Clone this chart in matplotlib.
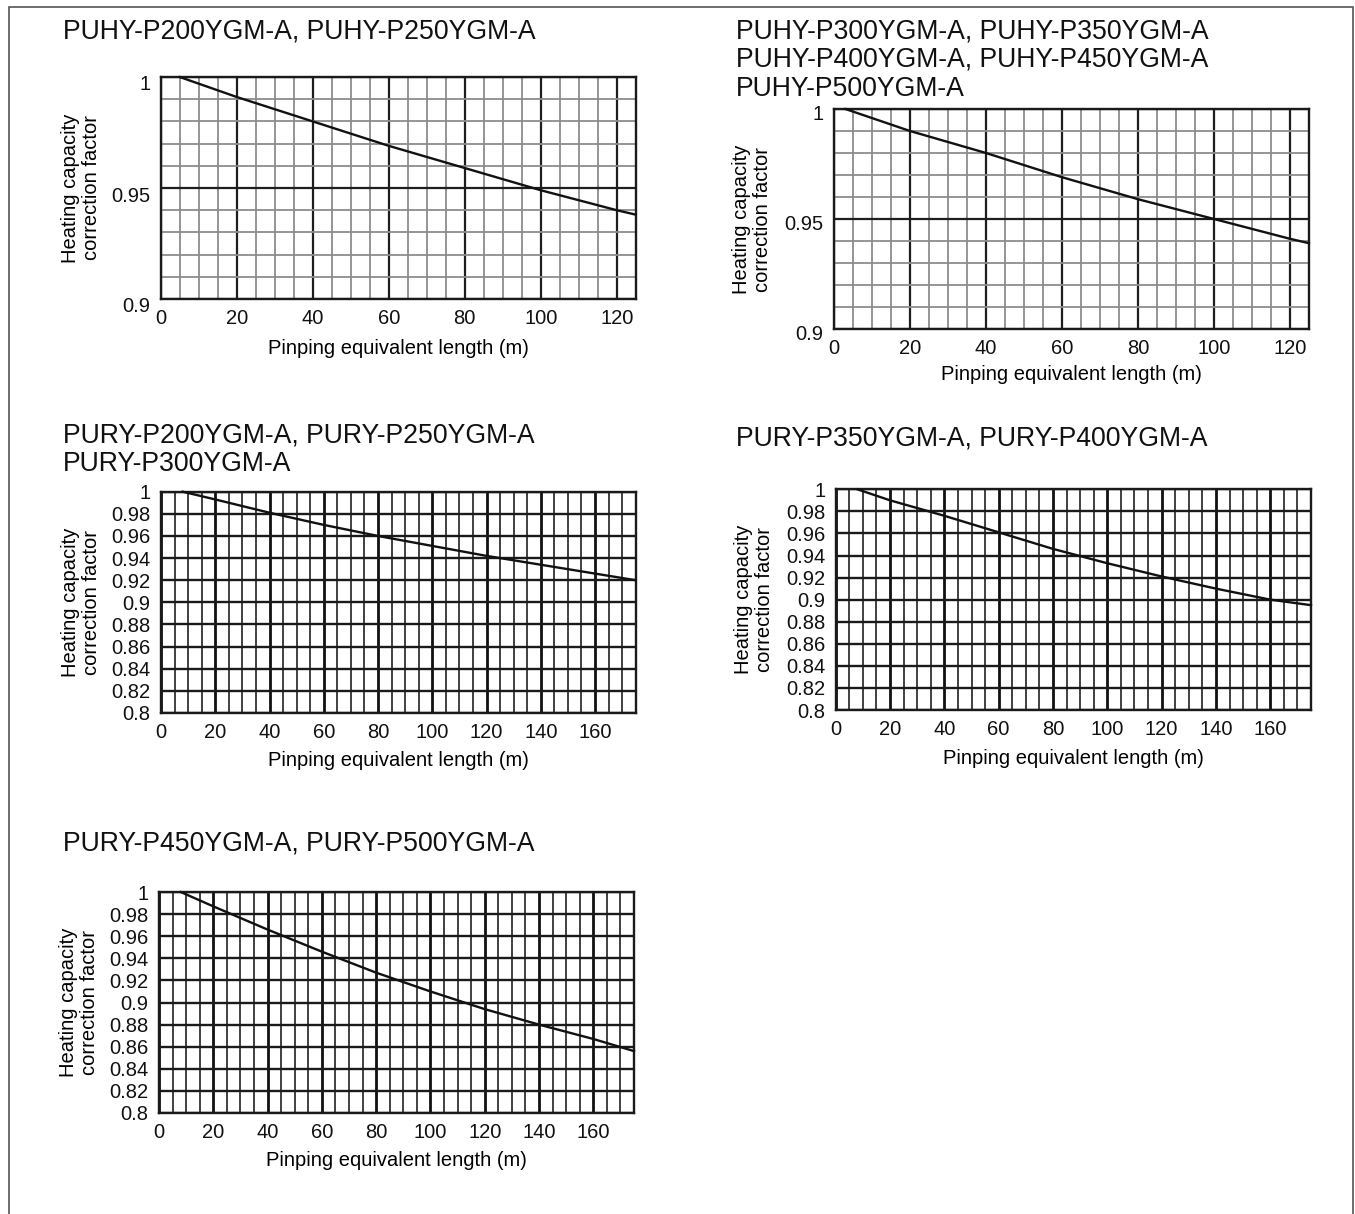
import matplotlib
matplotlib.use("Agg")
import matplotlib.pyplot as plt
import numpy as np
from matplotlib.patches import Rectangle
from matplotlib.transforms import ScaledTranslation

plt.rcParams['font.family'] = ['Liberation Sans', 'DejaVu Sans']

W, H = 1355, 1214
fig = plt.figure(figsize=(W / 100, H / 100), dpi=100)

# ---- text ----
title_puhy_small = ["PUHY-P200YGM-A, PUHY-P250YGM-A"]
title_puhy_large = ["PUHY-P300YGM-A, PUHY-P350YGM-A",
                    "PUHY-P400YGM-A, PUHY-P450YGM-A",
                    "PUHY-P500YGM-A"]
title_pury_small = ["PURY-P200YGM-A, PURY-P250YGM-A",
                    "PURY-P300YGM-A"]
title_pury_mid = ["PURY-P350YGM-A, PURY-P400YGM-A"]
title_pury_large = ["PURY-P450YGM-A, PURY-P500YGM-A"]
x_label = "Pinping equivalent length (m)"
y_label = "Heating capacity\ncorrection factor"

# ---- curves: piping length (m) vs. heating capacity correction factor ----
puhy_small_len = [5, 20, 40, 60, 80, 100, 120, 125]
puhy_small_fac = [1.0, 0.991, 0.980, 0.969, 0.959, 0.949, 0.940, 0.938]

puhy_large_len = [3, 20, 40, 60, 80, 100, 120, 125]
puhy_large_fac = [1.0, 0.990, 0.980, 0.969, 0.959, 0.950, 0.941, 0.939]

pury_small_len = [8, 20, 40, 60, 80, 100, 120, 140, 160, 175]
pury_small_fac = [1.0, 0.993, 0.981, 0.970, 0.960, 0.951, 0.942, 0.934, 0.926, 0.920]

pury_mid_len = [8, 20, 40, 60, 80, 100, 120, 140, 160, 175]
pury_mid_fac = [1.0, 0.990, 0.976, 0.961, 0.946, 0.933, 0.921, 0.910, 0.900, 0.895]

pury_large_len = [8, 20, 40, 60, 80, 100, 120, 140, 160, 175]
pury_large_fac = [1.0, 0.987, 0.966, 0.946, 0.927, 0.910, 0.894, 0.880, 0.867, 0.856]

# ---- axis scales ----
puhy_xticks = [0, 20, 40, 60, 80, 100, 120]
pury_xticks = [0, 20, 40, 60, 80, 100, 120, 140, 160]
puhy_yticks = [0.9, 0.95, 1.0]
pury_yticks = [0.8, 0.82, 0.84, 0.86, 0.88, 0.9, 0.92, 0.94, 0.96, 0.98, 1.0]

FS_TITLE = 19.2
FS = 14.5


def make_axes(left, right, top, bottom):
    return fig.add_axes([left / W, 1 - bottom / H, (right - left) / W, (bottom - top) / H])


def fmt(v):
    return f"{round(v, 3):g}"


def style_common(ax, xmax, xticks, ylab_px, xlab_px):
    ax.set_xlim(0, xmax)
    ax.set_xticks(xticks)
    ax.set_xticklabels([fmt(v) for v in xticks])
    ax.set_xticks(np.arange(0, xmax + 0.1, 5), minor=True)
    ax.tick_params(which="both", length=0, labelsize=FS, colors="#111111")
    ax.tick_params(axis="x", pad=7.5)
    ax.tick_params(axis="y", pad=7.5)
    for s in ax.spines.values():
        s.set_linewidth(1.7)
        s.set_color("#1a1a1a")
    ax.set_axisbelow(True)
    w_px = ax.get_position().width * W
    h_px = ax.get_position().height * H
    ax.set_xlabel(x_label, fontsize=FS)
    ax.xaxis.set_label_coords(0.5, -xlab_px / h_px)
    ax.xaxis.label.set_va("center")
    ax.set_ylabel(y_label, fontsize=FS, linespacing=1.12)
    ax.yaxis.set_label_coords(-ylab_px / w_px, 0.5)
    ax.yaxis.label.set_va("center")
    ax.yaxis.label.set_ha("center")


def puhy_chart(ax, xs, ys, shift_px):
    style_common(ax, 125, puhy_xticks, 80, 49)
    ax.set_ylim(0.9, 1.0)
    ax.set_yticks(puhy_yticks)
    ax.set_yticklabels([fmt(v) for v in puhy_yticks])
    ax.set_yticks(np.round(np.arange(0.9, 1.0001, 0.01), 2), minor=True)
    ax.grid(which="minor", color="#8c8c8c", linewidth=1.3)
    ax.grid(which="major", color="#1e1e1e", linewidth=1.6)
    off = ScaledTranslation(0, -shift_px / 100, fig.dpi_scale_trans)
    for lab in ax.get_yticklabels():
        lab.set_transform(lab.get_transform() + off)
    ax.plot(xs, ys, color="#111111", linewidth=1.7, zorder=3, clip_on=False,
            solid_joinstyle="round")


def pury_chart(ax, xs, ys, ylab_px):
    style_common(ax, 175, pury_xticks, ylab_px, 48)
    ax.set_ylim(0.8, 1.0)
    ax.set_yticks(pury_yticks)
    ax.set_yticklabels([fmt(v) for v in pury_yticks])
    ax.grid(which="minor", axis="x", color="#333333", linewidth=1.3)
    ax.grid(which="major", axis="x", color="#111111", linewidth=2.0)
    ax.grid(which="major", axis="y", color="#1a1a1a", linewidth=1.7)
    ax.plot(xs, ys, color="#111111", linewidth=1.7, zorder=3, clip_on=False,
            solid_joinstyle="round")


def title(lines, x_px, baselines):
    for txt, b in zip(lines, baselines):
        fig.text(x_px / W, 1 - b / H, txt, fontsize=FS_TITLE, ha="left",
                 va="baseline", color="#111111")


# top-left
ax1 = make_axes(160.7, 635.7, 77, 299)
puhy_chart(ax1, puhy_small_len, puhy_small_fac, 6)
title(title_puhy_small, 63, [39])

# top-right
ax2 = make_axes(834, 1309, 109, 329)
puhy_chart(ax2, puhy_large_len, puhy_large_fac, 4)
ax2.yaxis.set_label_coords(-82 / 475, 0.5)
ax2.xaxis.set_label_coords(0.5, -46 / 220)
title(title_puhy_large, 736, [38.5, 67, 95.5])

# middle-left
ax3 = make_axes(161, 635.7, 491.7, 713)
pury_chart(ax3, pury_small_len, pury_small_fac, 80)
title(title_pury_small, 63, [442, 471])

# middle-right
ax4 = make_axes(835.7, 1311, 489.3, 710)
pury_chart(ax4, pury_mid_len, pury_mid_fac, 82)
title(title_pury_mid, 736, [445])

# bottom-left
ax5 = make_axes(159, 634, 892, 1113)
pury_chart(ax5, pury_large_len, pury_large_fac, 80)
title(title_pury_large, 63, [850])

# page frame
fig.add_artist(Rectangle((9 / W, -0.02), (1353 - 9) / W, 1 - 7 / H + 0.02,
                         transform=fig.transFigure, fill=False,
                         edgecolor="#555555", linewidth=1.2))

fig.savefig("out.png", dpi=100, facecolor="white")
